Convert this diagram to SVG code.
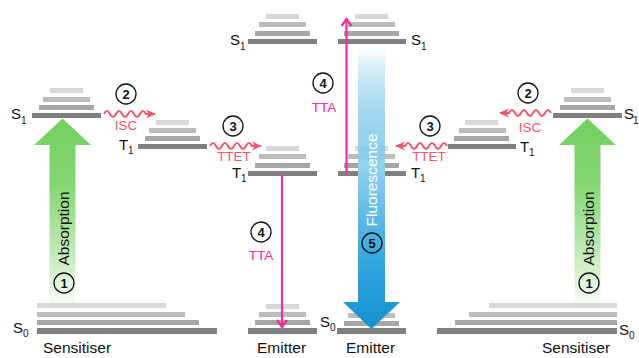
<svg xmlns="http://www.w3.org/2000/svg" width="639" height="358" viewBox="0 0 639 358">
<style>
text{font-family:"Liberation Sans",Arial,sans-serif;}
.b0{fill:#7f7f7f}
.b1{fill:#a6a6a6}
.b2{fill:#bcbcbc}
.b3{fill:#d8d8d8}
.lab{font-size:15px;fill:#111}
.sub{font-size:10px;fill:#111}
.name{font-size:15.5px;fill:#111}
.proc{font-size:13.5px;text-anchor:middle}
.coral{fill:#f2576c}
.mag{fill:#f72d9c}
.num circle{fill:none;stroke:#111;stroke-width:1.3}
.num text{font-size:13px;font-weight:bold;text-anchor:middle;fill:#111}
.wave{fill:none;stroke:#f2576c;stroke-width:2;marker-end:url(#ah)}
.tta{fill:none;stroke:#f72d9c;stroke-width:2.2}
</style>
<defs>
<marker id="ah" markerUnits="userSpaceOnUse" viewBox="0 0 10 10" refX="9" refY="5" markerWidth="10" markerHeight="10" orient="auto">
<path d="M0,0.5 L10,5 L0,9.5 L3,5 z" fill="#f2576c"/>
</marker>
<linearGradient id="gAbs" gradientUnits="userSpaceOnUse" x1="0" y1="118" x2="0" y2="306">
<stop offset="0" stop-color="#74cf5f"/>
<stop offset="0.35" stop-color="#85d672"/>
<stop offset="1" stop-color="#74cf5f" stop-opacity="0.04"/>
</linearGradient>
<linearGradient id="gFl" gradientUnits="userSpaceOnUse" x1="0" y1="48" x2="0" y2="329">
<stop offset="0" stop-color="#1a98d5" stop-opacity="0.02"/>
<stop offset="0.42" stop-color="#92d2ef"/>
<stop offset="0.75" stop-color="#33a7df"/>
<stop offset="1" stop-color="#1592d2"/>
</linearGradient>
</defs>

<!-- Sensitiser (left) S0 -->
<g id="sens-left-S0">
<rect class="b3" x="37" y="303" width="129" height="5"/>
<rect class="b2" x="37" y="312" width="148" height="5"/>
<rect class="b1" x="37" y="320" width="162" height="5"/>
<rect class="b0" x="37" y="328" width="180" height="6"/>
<text class="lab" x="13" y="333">S</text><text class="sub" x="23" y="337">0</text>
</g>
<!-- Sensitiser (right) S0 -->
<g id="sens-right-S0">
<rect class="b3" x="489" y="303" width="128" height="5"/>
<rect class="b2" x="469" y="312" width="148" height="5"/>
<rect class="b1" x="455" y="320" width="162" height="5"/>
<rect class="b0" x="437" y="328" width="180" height="6"/>
<text class="lab" x="619" y="335">S</text><text class="sub" x="629" y="339">0</text>
</g>

<!-- Sensitiser (left) S1 -->
<g id="sens-left-S1">
<rect class="b3" x="50" y="88" width="33" height="5"/>
<rect class="b2" x="43" y="97" width="47" height="5"/>
<rect class="b1" x="39" y="105" width="55" height="5"/>
<rect class="b0" x="32" y="113" width="69" height="5"/>
<text class="lab" x="11" y="119">S</text><text class="sub" x="21" y="123.5">1</text>
</g>
<!-- Sensitiser (left) T1 -->
<g id="sens-left-T1">
<rect class="b3" x="156" y="120" width="33" height="5"/>
<rect class="b2" x="149" y="128" width="47" height="5"/>
<rect class="b1" x="145" y="136" width="55" height="5"/>
<rect class="b0" x="138" y="144" width="69" height="5"/>
<text class="lab" x="119" y="150">T</text><text class="sub" x="128" y="154">1</text>
</g>

<!-- Emitter (left) S1 -->
<g id="emit-left-S1">
<rect class="b3" x="266" y="14" width="33" height="5"/>
<rect class="b2" x="259" y="22" width="47" height="5"/>
<rect class="b1" x="255" y="31" width="55" height="5"/>
<rect class="b0" x="248" y="39" width="69" height="5"/>
<text class="lab" x="230" y="45">S</text><text class="sub" x="240" y="49.5">1</text>
</g>
<!-- Emitter (left) T1 -->
<g id="emit-left-T1">
<rect class="b3" x="266" y="146" width="33" height="5"/>
<rect class="b2" x="259" y="154" width="47" height="5"/>
<rect class="b1" x="255" y="163" width="55" height="5"/>
<rect class="b0" x="248" y="171" width="69" height="5"/>
<text class="lab" x="232" y="178">T</text><text class="sub" x="241" y="182">1</text>
</g>
<!-- Emitter (left) S0 -->
<g id="emit-left-S0">
<rect class="b3" x="266" y="304" width="33" height="5"/>
<rect class="b2" x="259" y="312" width="47" height="5"/>
<rect class="b1" x="255" y="320" width="55" height="5"/>
<rect class="b0" x="248" y="328" width="69" height="6"/>
</g>

<!-- Emitter (right) S1 -->
<g id="emit-right-S1">
<rect class="b3" x="355" y="14" width="33" height="5"/>
<rect class="b2" x="348" y="22" width="47" height="5"/>
<rect class="b1" x="344" y="31" width="55" height="5"/>
<rect class="b0" x="338" y="39" width="68" height="5"/>
<text class="lab" x="411" y="45">S</text><text class="sub" x="421" y="49.5">1</text>
</g>
<!-- Emitter (right) T1 -->
<g id="emit-right-T1">
<rect class="b3" x="355" y="146" width="33" height="5"/>
<rect class="b2" x="348" y="154" width="47" height="5"/>
<rect class="b1" x="344" y="163" width="55" height="5"/>
<rect class="b0" x="338" y="171" width="68" height="5"/>
<text class="lab" x="411" y="178">T</text><text class="sub" x="420" y="182">1</text>
</g>
<!-- Emitter (right) S0 -->
<g id="emit-right-S0">
<rect class="b3" x="355" y="304" width="33" height="5"/>
<rect class="b2" x="348" y="313" width="47" height="5"/>
<rect class="b1" x="344" y="321" width="55" height="5"/>
<rect class="b0" x="337" y="328" width="69" height="6"/>
<text class="lab" x="320" y="327">S</text><text class="sub" x="330" y="331">0</text>
</g>

<!-- Sensitiser (right) S1 -->
<g id="sens-right-S1">
<rect class="b3" x="571" y="88" width="33" height="5"/>
<rect class="b2" x="564" y="97" width="47" height="5"/>
<rect class="b1" x="560" y="105" width="55" height="5"/>
<rect class="b0" x="553" y="113" width="69" height="5"/>
<text class="lab" x="624" y="119">S</text><text class="sub" x="633" y="123.5">1</text>
</g>
<!-- Sensitiser (right) T1 -->
<g id="sens-right-T1">
<rect class="b3" x="465" y="120" width="33" height="5"/>
<rect class="b2" x="459" y="128" width="47" height="5"/>
<rect class="b1" x="454" y="136" width="55" height="5"/>
<rect class="b0" x="448" y="144" width="68" height="5"/>
<text class="lab" x="520" y="152">T</text><text class="sub" x="529" y="156">1</text>
</g>

<!-- Column names -->
<g id="names">
<text class="name" x="43" y="353">Sensitiser</text>
<text class="name" x="257" y="353">Emitter</text>
<text class="name" x="346" y="353">Emitter</text>
<text class="name" x="542" y="353">Sensitiser</text>
</g>

<!-- Connectors -->
<g id="connectors">
<!-- 1 Absorption (left) -->
<g id="absorption-left">
<path d="M49.5,306 V145 H34 L62.5,118.5 L91,145 H75.5 V306 Z" fill="url(#gAbs)"/>
<text transform="translate(69,228.5) rotate(-90)" font-size="15.5" text-anchor="middle" fill="#111">Absorption</text>
<g class="num"><circle cx="64" cy="283" r="10"/><text x="64" y="287.5">1</text></g>
</g>
<!-- 1 Absorption (right) -->
<g id="absorption-right">
<path d="M574.5,306 V145 H559 L587.5,118.5 L616,145 H600.5 V306 Z" fill="url(#gAbs)"/>
<text transform="translate(594,228.5) rotate(-90)" font-size="15.5" text-anchor="middle" fill="#111">Absorption</text>
<g class="num"><circle cx="589" cy="283" r="10"/><text x="589" y="287.5">1</text></g>
</g>

<!-- 2 ISC -->
<g id="isc-left">
<path class="wave" d="M104,114 q3,-6 6,0 t6,0 t6,0 t6,0 t6,0 t6,0 t6,0 l9,0"/>
<g class="num"><circle cx="126" cy="94" r="10"/><text x="126" y="98.5">2</text></g>
<text class="proc coral" x="126" y="130">ISC</text>
</g>
<g id="isc-right">
<path class="wave" d="M551,113 q-3,-6 -6,0 t-6,0 t-6,0 t-6,0 t-6,0 t-6,0 t-6,0 l-9,0"/>
<g class="num"><circle cx="528" cy="93" r="10"/><text x="528" y="97.5">2</text></g>
<text class="proc coral" x="530" y="132">ISC</text>
</g>

<!-- 3 TTET -->
<g id="ttet-left">
<path class="wave" d="M210,146 q3,-6 6,0 t6,0 t6,0 t6,0 t6,0 t6,0 t6,0 l9,0"/>
<g class="num"><circle cx="233" cy="126" r="10"/><text x="233" y="130.5">3</text></g>
<text class="proc coral" x="234" y="161">TTET</text>
</g>
<g id="ttet-right">
<path class="wave" d="M447,146 q-3,-6 -6,0 t-6,0 t-6,0 t-6,0 t-6,0 t-6,0 t-6,0 l-9,0"/>
<g class="num"><circle cx="430" cy="126" r="10"/><text x="430" y="130.5">3</text></g>
<text class="proc coral" x="429" y="161">TTET</text>
</g>

<!-- 5 Fluorescence -->
<g id="fluorescence">
<path d="M358,48 H385 V302 H400 L371.5,329 L343,302 H358 Z" fill="url(#gFl)"/>
<text transform="translate(377,180) rotate(-90)" font-size="15.5" text-anchor="middle" fill="#ffffff">Fluorescence</text>
<g class="num"><circle cx="372" cy="243" r="10"/><text x="372" y="247.5">5</text></g>
</g>

<!-- 4 TTA (up) -->
<g id="tta-up">
<path class="tta" d="M346.5,174 V19"/>
<path class="tta" d="M341.5,26 L346.5,19 L351.5,26"/>
<g class="num"><circle cx="323" cy="83" r="10"/><text x="323" y="87.5">4</text></g>
<text class="proc mag" x="324" y="112">TTA</text>
</g>
<!-- 4 TTA (down) -->
<g id="tta-down">
<path class="tta" d="M282,174 V327"/>
<path class="tta" d="M277,320 L282,327 L287,320"/>
<g class="num"><circle cx="261" cy="232" r="10"/><text x="261" y="236.5">4</text></g>
<text class="proc mag" x="261" y="260">TTA</text>
</g>
</g>
</svg>
